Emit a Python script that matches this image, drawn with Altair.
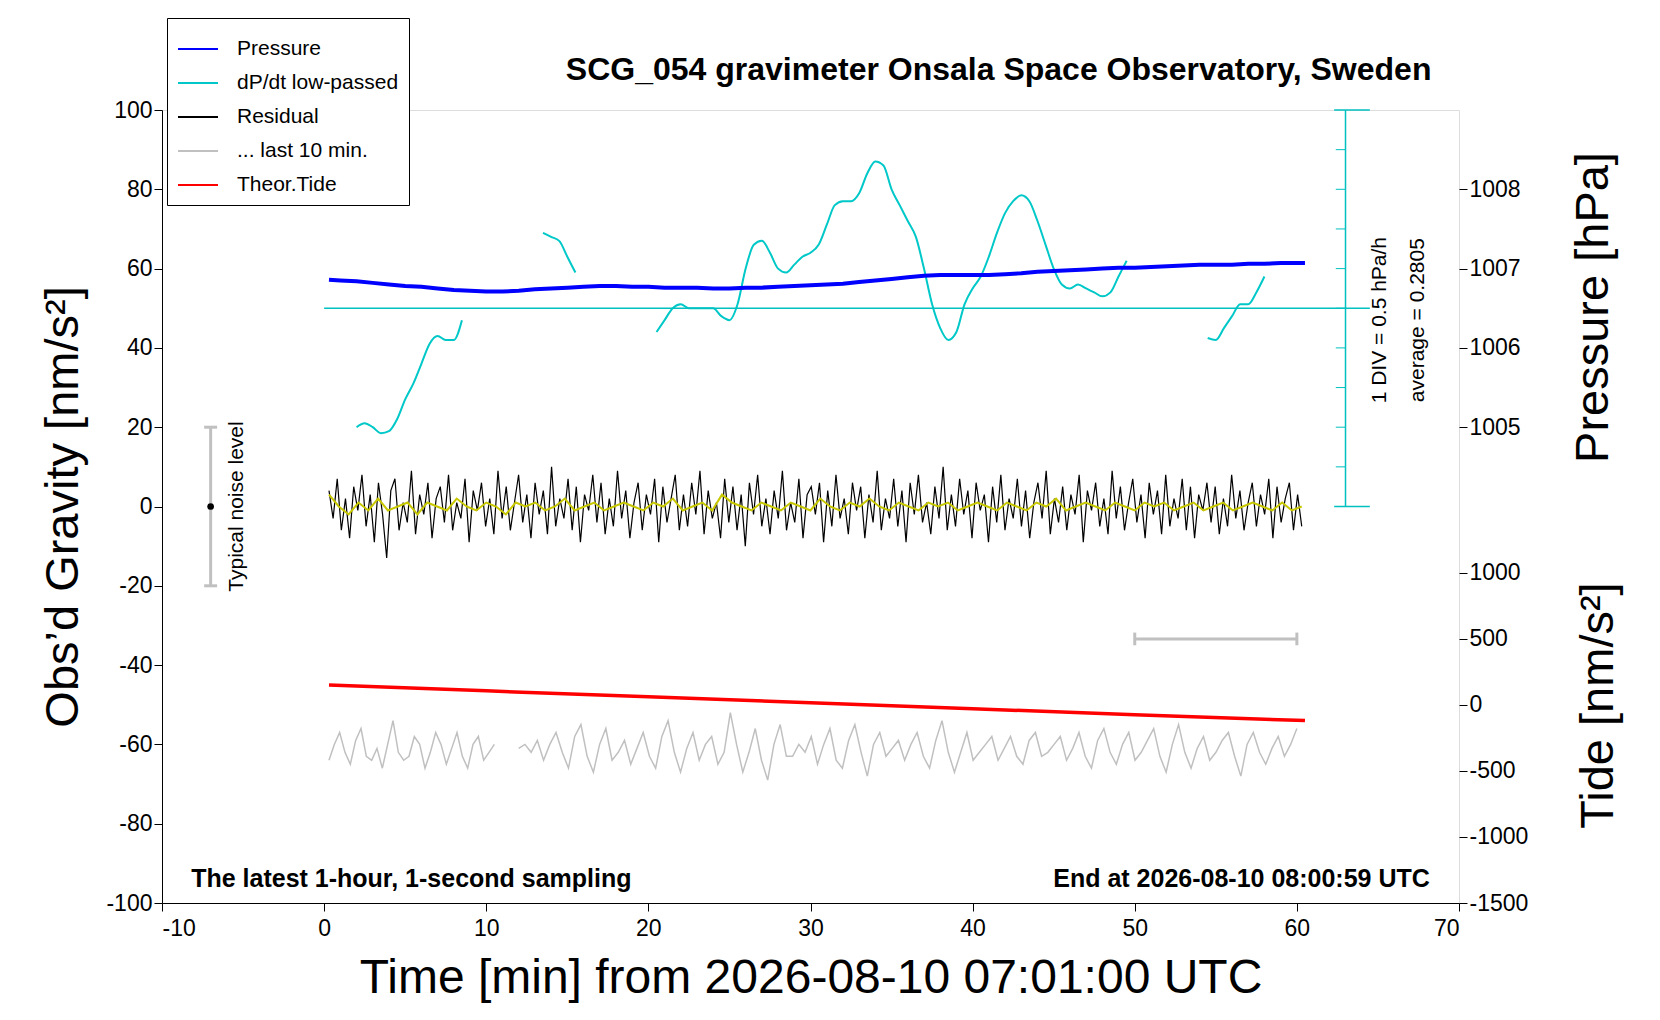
import altair as alt
import pandas as pd

FONT = "Liberation Sans"

# --- data ---
residual = [4,-3,7,-6,2,-8,5,-1,8,-5,3,-9,6,-2,-13,4,7,-6,1,-4,9,-7,3,-2,6,-8,2,5,-4,8,-6,1,-3,7,-9,4,-1,6,-5,2,
            -7,9,-3,5,-6,1,8,-4,3,-8,6,-2,4,-7,10,-5,2,-3,7,-6,5,-9,3,-1,8,-4,6,-7,2,-5,9,-3,4,-8,1,6,-6,3,-2,7,
            -9,5,-4,2,8,-6,3,-5,6,-2,9,-7,4,-3,1,-8,7,-4,5,-6,3,-10,6,-2,8,-5,2,-7,4,-3,9,-6,1,-4,7,-8,3,5,-2,6,
            -9,4,-5,8,-3,2,-7,6,-1,5,-8,3,-4,9,-6,2,-3,7,-5,4,-9,6,-2,8,-4,1,-7,5,-3,10,-6,3,-5,7,-2,4,-8,6,-1,
            3,-9,5,-4,8,-6,2,-3,7,-5,4,-8,1,6,-3,9,-7,2,-4,5,-6,3,-2,8,-9,4,-1,6,-5,2,-7,9,-3,5,-6,1,7,-4,3,-8,
            6,-2,4,-7,8,-5,2,-3,7,-6,5,-8,3,-1,6,-4,5,-7,2,-5,8,-3,4,-6,1,6,-5,3,-2,7,-8,5,-4,2,6,-6,3,-5]
smoothed = [3,0,-2,1,-1,2,-1,0,1,-2,1,0,-1,2,0,-1,1,0,-2,1,0,1,-1,0,2,-1,0,1,-1,0,
            1,0,-1,1,0,2,-1,0,1,-1,3,1,0,-1,1,0,-1,1,0,-1,2,0,-1,1,0,2,0,-1,1,0,
            -1,1,0,1,-1,0,1,0,-1,1,0,-1,1,0,2,-1,0,1,0,-1,1,0,-1,1,0,1,-1,0,1,-1,
            0,1,-1,0,1,0,-1,1,-1,0]
grey_a = [-64,-60,-57,-62,-65,-59,-56,-63,-64,-61,-66,-60,-54,-62,-64,-63,-58,-60,-66,-62,
          -57,-60,-65,-61,-57,-63,-66,-60,-58,-64,-62,-60]
grey_b = [-61,-60,-62,-59,-64,-60,-57,-62,-66,-58,-55,-63,-67,-60,-56,-64,-62,-59,-65,-61,
          -57,-63,-66,-58,-54,-62,-67,-61,-57,-64,-60,-58,-65,-62,-52,-60,-67,-62,-56,-64,
          -69,-60,-55,-63,-63,-60,-62,-58,-65,-60,-56,-64,-66,-59,-55,-62,-68,-60,-57,-63,
          -61,-59,-64,-60,-57,-63,-66,-59,-54,-62,-67,-62,-57,-64,-62,-60,-58,-64,-61,-58,
          -63,-65,-59,-57,-63,-62,-60,-58,-64,-61,-57,-63,-66,-59,-56,-62,-65,-60,-57,-64,
          -62,-59,-56,-63,-67,-60,-55,-62,-66,-61,-58,-64,-62,-59,-57,-63,-68,-60,-57,-62,
          -65,-61,-58,-63,-60,-56]
press_t = [0.3,1,2,3,4,5,6,7,8,9,10,11,12,13,14,15,16,17,18,19,20,21,22,23,24,25,26,27,28,29,30,
           31,32,33,34,35,36,37,38,39,40,41,42,43,44,45,46,47,48,49,50,51,52,53,54,55,56,57,58,59,60.5]
pressure = [1006.86,1006.85,1006.84,1006.82,1006.80,1006.78,1006.77,1006.75,1006.73,1006.72,1006.71,
            1006.71,1006.72,1006.74,1006.75,1006.76,1006.77,1006.78,1006.78,1006.77,1006.77,1006.76,
            1006.76,1006.76,1006.75,1006.75,1006.76,1006.76,1006.77,1006.78,1006.79,1006.80,1006.81,
            1006.83,1006.85,1006.87,1006.89,1006.91,1006.92,1006.92,1006.92,1006.92,1006.93,1006.94,
            1006.96,1006.97,1006.98,1006.99,1007.00,1007.01,1007.01,1007.02,1007.03,1007.04,1007.05,
            1007.05,1007.05,1007.06,1007.06,1007.07,1007.07]
dpdt_t = [2,2.5,3,3.5,4,4.5,5,5.5,6,6.5,7,7.5,8,8.5,
          13.5,14,14.5,15,15.5,
          20.5,21,21.5,22,22.5,23,23.5,24,24.5,25,25.5,26,26.5,27,27.5,28,28.5,29,29.5,30,30.5,31,31.5,
          32,32.5,33,33.5,34,34.5,35,35.5,36,36.5,37,37.5,38,38.5,39,39.5,40,40.5,41,41.5,42,42.5,43,
          43.5,44,44.5,45,45.5,46,46.5,47,47.5,48,48.5,49,49.5,
          54.5,55,55.5,56,56.5,57,57.5,58]
dpdt = [20,21,20,18.5,19,22,27,31,36,41,43,42,42,47,
        69,68,67,63,59,
        44,47,50,51,50,50,50,50,48,47,51,60,66,67,64,60,59,61,63,64,66,71,76,77,77,79,84,87,86,80,76,
        72,68,60,51,45,42,44,51,55,58,63,69,74,77,78.5,77,72,66,60,56,55,56,55,54,53,54,58,62,
        42.5,42,45,48,51,51,54,58]
dpdt_seg = [1]*14 + [2]*5 + [3]*59 + [4]*8
tide_t = [0.3, 10, 20, 30, 40, 50, 60.5]
tide = [150, 105, 60, 15, -30, -75, -120]

series_names = ["Pressure", "dP/dt low-passed", "Residual", "... last 10 min.", "Theor.Tide"]
series_colors = ["#0000ff", "#00c8c8", "#000000", "#c0c0c0", "#ff0000"]

n = len(residual)
res_df = pd.DataFrame({"t": [0.3 + i * 60.0 / (n - 1) for i in range(n)], "g": residual, "s": "Residual"})
m = len(smoothed)
sm_df = pd.DataFrame({"t": [0.3 + i * 60.0 / (m - 1) for i in range(m)], "g": smoothed})
ga = pd.DataFrame({"t": [0.3 + i * 10.2 / (len(grey_a) - 1) for i in range(len(grey_a))], "g": grey_a, "seg": 1})
gb = pd.DataFrame({"t": [12.0 + i * 48.0 / (len(grey_b) - 1) for i in range(len(grey_b))], "g": grey_b, "seg": 2})
grey_df = pd.concat([ga, gb])
grey_df["s"] = "... last 10 min."
dp_df = pd.DataFrame({"t": dpdt_t, "g": dpdt, "seg": dpdt_seg, "s": "dP/dt low-passed"})
pr_df = pd.DataFrame({"t": press_t, "p": pressure, "s": "Pressure"})
td_df = pd.DataFrame({"t": tide_t, "tide": tide, "s": "Theor.Tide"})

color = alt.Color("s:N", scale=alt.Scale(domain=series_names, range=series_colors),
                  legend=alt.Legend(title=None, orient="none", legendX=5, legendY=-92,
                                    symbolType="stroke", symbolSize=1600, symbolStrokeWidth=2,
                                    labelFontSize=21, labelFont=FONT, labelColor="black",
                                    fillColor="white", strokeColor="black", padding=10, rowPadding=3,
                                    labelOffset=18, labelLimit=400))

num = "'' + datum.value"
X = alt.X("t:Q", scale=alt.Scale(domain=[-10, 70], nice=False),
          axis=alt.Axis(values=list(range(-10, 71, 10)), labelExpr=num,
                        title="Time [min] from 2026-08-10 07:01:00 UTC",
                        titleFontSize=48, titleFontWeight="normal", titlePadding=14,
                        labelFontSize=23, tickSize=8, grid=False, domainColor="black",
                        tickColor="black", labelColor="black", titleColor="black", labelPadding=6))
G = alt.Y("g:Q", scale=alt.Scale(domain=[-100, 100], nice=False),
          axis=alt.Axis(values=list(range(-100, 101, 20)), labelExpr=num, title="Obs’d Gravity [nm/s²]",
                        titleFontSize=47, titleFontWeight="normal", titlePadding=18,
                        labelFontSize=23, tickSize=8, grid=False, tickColor="black", domainColor="black",
                        labelColor="black", titleColor="black"))

res_line = alt.Chart(res_df).mark_line(strokeWidth=1.2).encode(x=X, y=G, color=color)
sm_line = alt.Chart(sm_df).mark_line(strokeWidth=2, color="#c8c800").encode(x="t:Q", y="g:Q")
grey_line = alt.Chart(grey_df).mark_line(strokeWidth=1.5).encode(x="t:Q", y="g:Q", detail="seg:N", color=color)
dp_line = alt.Chart(dp_df).mark_line(strokeWidth=2, interpolate="monotone").encode(
    x="t:Q", y="g:Q", detail="seg:N", color=color)

# dP/dt scale: baseline, vertical bar with DIV ticks
cyan = "#00c0c0"
rules_df = pd.DataFrame({"x1": [0, 63, 62.3, 62.3], "x2": [64.5, 63, 64.5, 64.5],
                         "y1": [50, 0, 0, 100], "y2": [50, 100, 0, 100]})
cy_rules = alt.Chart(rules_df).mark_rule(color=cyan, strokeWidth=1.5).encode(
    x="x1:Q", x2="x2:Q", y="y1:Q", y2="y2:Q")
div_df = pd.DataFrame({"y": list(range(10, 100, 10)), "x1": 62.4, "x2": 63})
cy_div = alt.Chart(div_df).mark_rule(color=cyan, strokeWidth=1).encode(x="x1:Q", x2="x2:Q", y="y:Q")

# noise level bar and 10-min bar
bars_df = pd.DataFrame({"x1": [-7, -7.4, -7.4, 50, 50, 60], "x2": [-7, -6.6, -6.6, 60, 50, 60],
                        "y1": [-20, -20, 20, -33.4, -35, -35], "y2": [20, -20, 20, -33.4, -31.8, -31.8]})
grey_rules = alt.Chart(bars_df).mark_rule(color="#c0c0c0", strokeWidth=3).encode(
    x="x1:Q", x2="x2:Q", y="y1:Q", y2="y2:Q")
dot = alt.Chart(pd.DataFrame({"x": [-7], "y": [0]})).mark_circle(color="black", size=45, opacity=1).encode(
    x="x:Q", y="y:Q")

rot_df = pd.DataFrame({"x": [-5.4, 65.1, 67.5], "y": [0, 47, 47],
                       "txt": ["Typical noise level", "1 DIV = 0.5 hPa/h", "average = 0.2805"]})
rot_text = alt.Chart(rot_df).mark_text(angle=270, fontSize=21, font=FONT, color="black").encode(
    x="x:Q", y="y:Q", text="txt:N")
foot_df = pd.DataFrame({"x": [-8.2, 68.2], "y": [-94, -94],
                        "txt": ["The latest 1-hour, 1-second sampling", "End at 2026-08-10 08:00:59 UTC"]})
foot_l = alt.Chart(foot_df.iloc[[0]]).mark_text(align="left", fontSize=25, fontWeight="bold", font=FONT,
                                                 color="black").encode(x="x:Q", y="y:Q", text="txt:N")
foot_r = alt.Chart(foot_df.iloc[[1]]).mark_text(align="right", fontSize=25, fontWeight="bold", font=FONT,
                                                 color="black").encode(x="x:Q", y="y:Q", text="txt:N")
title_df = pd.DataFrame({"x": [68.3], "y": [110],
                         "txt": ["SCG_054 gravimeter Onsala Space Observatory, Sweden"]})
title_txt = alt.Chart(title_df).mark_text(align="right", baseline="middle", fontSize=32, fontWeight="bold",
                                          font=FONT, color="black", clip=False).encode(
    x="x:Q", y="y:Q", text="txt:N")

gravity = alt.layer(res_line, grey_line, sm_line, dp_line, cy_rules, cy_div, grey_rules, dot,
                    rot_text, foot_l, foot_r, title_txt)

pr_line = alt.Chart(pr_df).mark_line(strokeWidth=4).encode(
    x="t:Q",
    y=alt.Y("p:Q", scale=alt.Scale(domain=[999, 1009], nice=False),
            axis=alt.Axis(orient="right", values=[1005, 1006, 1007, 1008], labelExpr=num,
                          title="Pressure [hPa]", titleAngle=270, titleBaseline="bottom", titleX=158,
                          titleFontSize=47, titleFontWeight="normal", titleY=197,
                          labelFontSize=23, tickSize=8, grid=False, domain=False,
                          tickColor="black", labelColor="black", titleColor="black")),
    color=color)
td_line = alt.Chart(td_df).mark_line(strokeWidth=3.5).encode(
    x="t:Q",
    y=alt.Y("tide:Q", scale=alt.Scale(domain=[-1500, 4500], nice=False),
            axis=alt.Axis(orient="right", values=[-1500, -1000, -500, 0, 500, 1000], labelExpr=num,
                          title="Tide [nm/s²]", titleAngle=270, titleBaseline="bottom", titleX=163,
                          titleFontSize=47, titleFontWeight="normal", titleY=595,
                          labelFontSize=23, tickSize=8, grid=False, domain=False,
                          tickColor="black", labelColor="black", titleColor="black")),
    color=color)

chart = alt.layer(gravity, pr_line, td_line).resolve_scale(y="independent").properties(
    width=1297, height=793,
    autosize=alt.AutoSizeParams(type="none"),
    padding={"left": 154, "top": 102, "right": 190, "bottom": 110},
).configure_view(stroke="black", strokeWidth=2).configure(font=FONT)

chart.save("out.html", embed_options={"renderer": "svg", "actions": False})
